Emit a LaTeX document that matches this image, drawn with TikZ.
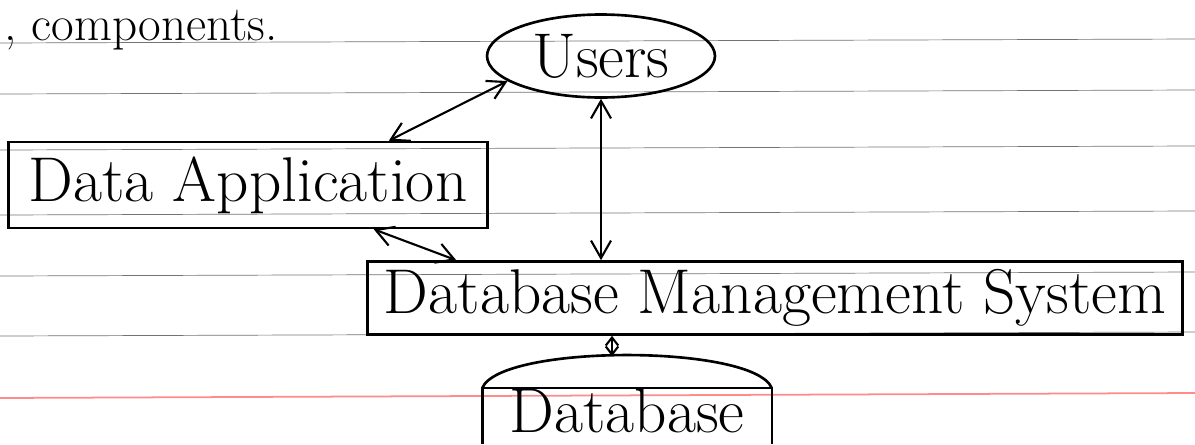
\documentclass[tikz,border=0pt]{standalone}
\usepackage{tikz}
\usetikzlibrary{arrows.meta,shapes.geometric}

\begin{document}
\begin{tikzpicture}[x=0.02cm,y=-0.02cm,
  >={Straight Barb[length=3.5mm,width=4mm]},
  box/.style={draw,line width=1.5pt,inner sep=0pt},
  lbl/.style={font=\fontsize{36}{42}\selectfont},
  link/.style={<->,line width=1.2pt}]
  \useasboundingbox (0,0) rectangle (1195,444);
  \coordinate (floor) at (0,444);
  % ruled paper
  \foreach \y in {43,94,150,215,276,336}
    \draw[black!55] (0,\y) -- (1195,\y-4);
  \draw[red!45,line width=1pt] (0,398) -- (1195,393);
  \node[font=\fontsize{28}{34}\selectfont,inner sep=0pt,anchor=base west] (title) at (4,40) {, components.};
  \node[box,ellipse,lbl,minimum width=4.56cm,minimum height=1.66cm] (users) at (601,56) {Users};
  \node[box,lbl,minimum width=9.58cm,minimum height=1.72cm] (app) at (248,185) {Data Application};
  \node[box,lbl,minimum width=16.3cm,minimum height=1.46cm] (dbms) at (775,298) {Database Management System};
  \node[lbl,inner sep=0pt,minimum width=5.78cm,minimum height=0.9cm] (db) at (627,411) {Database};
  % open box with a curved lid, cut by the page edge
  \draw[line width=1.5pt] (db.north west |- floor) -- (db.north west) -- (db.north east) -- (db.north east |- floor);
  \draw[line width=1.5pt] (db.north west) .. controls (500,344) and (754,344) .. (db.north east);
  \draw[link] (users.195) -- ([xshift=-2cm]app.north east);
  \draw[link] (users.south) -- (users.south |- dbms.north);
  \draw[link] ([xshift=-2.3cm]app.south east) -- ([xshift=1.8cm]dbms.north west);
  \draw[link,>={Straight Barb[length=1.6mm,width=2.5mm]}] ([xshift=-0.3cm]db.north |- dbms.south) -- ([xshift=-0.3cm,yshift=0.64cm]db.north);
\end{tikzpicture}
\end{document}
